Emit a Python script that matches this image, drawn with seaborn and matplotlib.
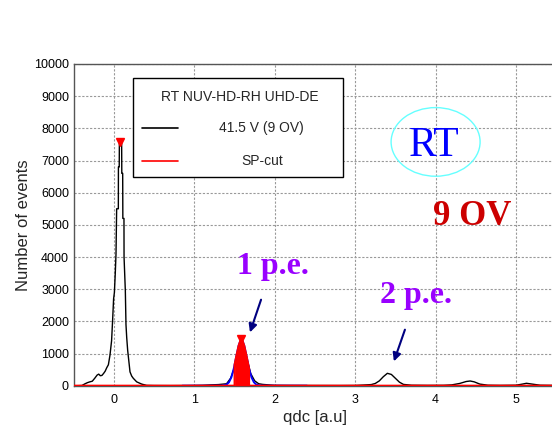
import matplotlib
matplotlib.use("Agg")
import matplotlib.pyplot as plt
from matplotlib.patches import Ellipse, Rectangle
import seaborn as sns

# qdc spectrum (black histogram)
qdc = [-0.50, -0.45, -0.40, -0.36, -0.33, -0.30, -0.27, -0.24, -0.21, -0.19,
       -0.17, -0.15, -0.13, -0.11, -0.09, -0.07, -0.05, -0.03, -0.017, -0.005,
       0.005, 0.016, 0.025, 0.033, 0.054, 0.055, 0.065, 0.067, 0.095, 0.097,
       0.108, 0.110, 0.124, 0.125, 0.141, 0.149, 0.158, 0.170, 0.183, 0.199,
       0.220, 0.240, 0.282, 0.344, 0.406, 0.50, 0.70, 0.90, 1.00, 1.10,
       1.20, 1.30, 1.40, 1.45, 1.50, 1.55, 1.585, 1.62, 1.66, 1.70,
       1.75, 1.80, 1.85, 1.90, 1.95, 2.00, 2.20, 2.50, 2.80, 3.00,
       3.10, 3.20, 3.25, 3.30, 3.35, 3.40, 3.45, 3.50, 3.55, 3.60,
       3.70, 3.90, 4.10, 4.20, 4.30, 4.38, 4.43, 4.48, 4.55, 4.65,
       4.80, 5.00, 5.08, 5.13, 5.20, 5.30, 5.50]
events = [0, 0, 5, 60, 95, 120, 140, 230, 330, 360,
          310, 320, 380, 450, 560, 650, 950, 1400, 2050, 2700,
          2900, 3500, 4100, 5500, 5500, 6800, 6800, 7600, 7600, 6600,
          6600, 5200, 5200, 4000, 2950, 1900, 1500, 1100, 800, 430,
          300, 230, 120, 50, 10, 5, 3, 5, 8, 12,
          25, 35, 60, 230, 560, 1050, 1420, 1200, 760, 380,
          150, 60, 40, 30, 20, 12, 8, 6, 5, 8,
          20, 35, 70, 150, 280, 385, 350, 230, 110, 40,
          15, 10, 12, 25, 70, 130, 146, 120, 50, 15,
          10, 15, 50, 75, 50, 15, 8]

# SP-cut histogram (red)
cut_x = [-0.50, 1.50, 1.50, 1.52, 1.55, 1.57, 1.585, 1.60, 1.62, 1.65, 1.68, 1.68, 5.50]
cut_y = [0, 0, 650, 899, 1244, 1386, 1420, 1386, 1244, 899, 535, 0, 0]

# gaussian fit of the 1 p.e. peak (blue)
fit_x = [0.85, 1.20, 1.30, 1.35, 1.40, 1.43, 1.46, 1.49, 1.52, 1.55, 1.57, 1.585,
         1.60, 1.62, 1.65, 1.68, 1.71, 1.74, 1.77, 1.82, 1.90, 2.40]
fit_y = [0, 0, 1, 4, 35, 106, 262, 535, 899, 1244, 1386, 1420,
         1386, 1244, 899, 535, 262, 106, 35, 4, 0, 0]

# peaks found
peak_x = [0.08, 1.585]
peak_y = [7570, 1440]

sns.set_style("white")
plt.rcParams['font.family'] = ['Liberation Sans', 'DejaVu Sans']

fig = plt.figure(figsize=(5.52, 4.28), dpi=100)
ax = fig.add_axes([73.8 / 552, 1 - 385.7 / 428, 482.4 / 552, 321.7 / 428])

sns.lineplot(x=fit_x, y=fit_y, color='#0000ff', lw=1.4, estimator=None, sort=False, ax=ax, zorder=3)
sns.lineplot(x=qdc, y=events, color='black', lw=1.0, estimator=None, sort=False, ax=ax, zorder=2)
ax.fill_between(cut_x, cut_y, color='#ff0000', lw=0, zorder=4)
sns.lineplot(x=cut_x, y=cut_y, color='#ff0000', lw=1.5, estimator=None, sort=False, ax=ax, zorder=5)
ax.plot(peak_x, peak_y, 'v', color='#ff0000', ms=6, zorder=6)

ax.set_xlim(-0.5, 5.5)
ax.set_ylim(0, 10000)
ax.set_xticks([0, 1, 2, 3, 4, 5])
ax.set_xticks([x / 5 for x in range(-2, 28)], minor=True)
ax.set_yticks(range(0, 10001, 1000))
ax.set_yticks(range(0, 10001, 200), minor=True)
ax.tick_params(axis='both', which='both', direction='in', labelsize=9, colors='#333333', labelcolor='black')
ax.tick_params(axis='y', which='major', length=11, width=1)
ax.tick_params(axis='y', which='minor', length=5, width=1)
ax.tick_params(axis='x', which='major', length=7, width=1, pad=6)
ax.tick_params(axis='x', which='minor', length=4, width=1)
ax.grid(True, which='major', color='#999999', ls=(0, (2, 1.5)), lw=0.8)
for s in ax.spines.values():
    s.set_color('#555555')
    s.set_linewidth(1.0)

ax.set_xlabel('qdc [a.u]', fontsize=12, labelpad=3)
ax.set_ylabel('Number of events', fontsize=12, labelpad=2)

# legend box drawn by hand like the ROOT TLegend
ax.add_patch(Rectangle((0.1233, 0.6478), 0.4341, 0.3078, transform=ax.transAxes,
                       facecolor='white', edgecolor='black', lw=1.0, zorder=7))
ax.text(0.3445, 0.8962, 'RT NUV-HD-RH UHD-DE', transform=ax.transAxes, ha='center', va='center',
        fontsize=10, zorder=8)
ax.plot([0.1407, 0.2167], [0.8001, 0.8001], transform=ax.transAxes, color='black', lw=1.2, zorder=8)
ax.text(0.3895, 0.8001, '41.5 V (9 OV)', transform=ax.transAxes, ha='center', va='center',
        fontsize=10, zorder=8)
ax.plot([0.1407, 0.2167], [0.6995, 0.6995], transform=ax.transAxes, color='#ff0000', lw=1.2, zorder=8)
ax.text(0.3915, 0.6995, 'SP-cut', transform=ax.transAxes, ha='center', va='center',
        fontsize=10, zorder=8)

serif = ['Liberation Serif', 'DejaVu Serif']
ax.text(1.98, 3470, '1 p.e.', color='#9900ff', fontsize=23, fontweight='bold', family=serif,
        ha='center', va='baseline', zorder=8)
ax.text(3.76, 2568, '2 p.e.', color='#9900ff', fontsize=23, fontweight='bold', family=serif,
        ha='center', va='baseline', zorder=8)
ax.annotate('', xy=(1.68, 1575), xytext=(1.84, 2755),
            arrowprops=dict(arrowstyle='-|>', color='#000080', lw=1.5, mutation_scale=12), zorder=8)
ax.annotate('', xy=(3.47, 674), xytext=(3.63, 1823),
            arrowprops=dict(arrowstyle='-|>', color='#000080', lw=1.5, mutation_scale=12), zorder=8)

ax.add_patch(Ellipse((4.0, 7578), 1.107, 2134, fill=False, edgecolor='#66ffff', lw=1.0, zorder=8))
ax.text(3.98, 7143, 'RT', color='#0000ff', fontsize=30, family=serif, ha='center', va='baseline', zorder=9)
ax.text(4.45, 4990, '9 OV', color='#cc0000', fontsize=25, fontweight='bold', family=serif,
        ha='center', va='baseline', zorder=9)

fig.savefig('out.png', dpi=100)
